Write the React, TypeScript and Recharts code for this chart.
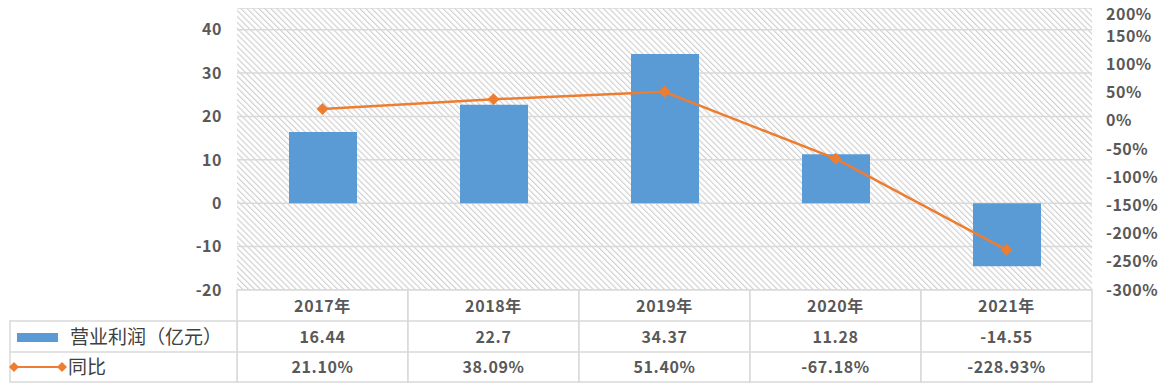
import { ComposedChart, Bar, Line, XAxis, YAxis, CartesianGrid } from 'recharts';

const years = ['2017年', '2018年', '2019年', '2020年', '2021年'];
const profit = [16.44, 22.7, 34.37, 11.28, -14.55];
const yoy = [21.1, 38.09, 51.4, -67.18, -228.93];
const profitLabels = ['16.44', '22.7', '34.37', '11.28', '-14.55'];
const yoyLabels = ['21.10%', '38.09%', '51.40%', '-67.18%', '-228.93%'];
const leftTicks = [-20, -10, 0, 10, 20, 30, 40];
const rightTicks = [-300, -250, -200, -150, -100, -50, 0, 50, 100, 150, 200];

const BAR = '#5b9bd5';
const LINE = '#ed7d31';
const BORDER = '#d9d9d9';
const TEXT = '#595959';

const W = 1173;
const H = 392;
const PLOT_LEFT = 237;
const PLOT_RIGHT = 1092;
const PLOT_TOP = 8;
const PLOT_BOTTOM = 290;
const ROW1 = 290;
const ROW2 = 321;
const ROW3 = 352;
const ROW_END = 382;
const TABLE_LEFT = 10;

const data = years.map((y, i) => ({
  year: y,
  profit: profit[i],
  yoy: yoy[i],
}));

const Diamond = ({ cx, cy, r = 6 }: { cx: number; cy: number; r?: number }) => (
  <polygon
    points={`${cx},${cy - r} ${cx + r},${cy} ${cx},${cy + r} ${cx - r},${cy}`}
    fill={LINE}
  />
);

const cellText = {
  fontSize: 16,
  fontWeight: 700,
  fill: TEXT,
  textAnchor: 'middle' as const,
  letterSpacing: 0.6,
};

const TableTick = (props: any) => {
  const { x, payload } = props;
  const i = payload.index;
  const band = (PLOT_RIGHT - PLOT_LEFT) / years.length;
  const left = x - band / 2;
  return (
    <g>
      <rect x={left} y={ROW1} width={band} height={ROW_END - ROW1} fill="#fff" stroke={BORDER} strokeWidth={1.5} />
      <line x1={left} x2={left + band} y1={ROW2} y2={ROW2} stroke={BORDER} strokeWidth={1.5} />
      <line x1={left} x2={left + band} y1={ROW3} y2={ROW3} stroke={BORDER} strokeWidth={1.5} />
      <text x={x} y={(ROW1 + ROW2) / 2 + 6} {...cellText}>{years[i]}</text>
      <text x={x} y={(ROW2 + ROW3) / 2 + 6} {...cellText}>{profitLabels[i]}</text>
      <text x={x} y={(ROW3 + ROW_END) / 2 + 6} {...cellText}>{yoyLabels[i]}</text>
      {i === 0 && (
        <g>
          <rect x={TABLE_LEFT} y={ROW2} width={PLOT_LEFT - TABLE_LEFT} height={ROW_END - ROW2} fill="#fff" stroke={BORDER} strokeWidth={1.5} />
          <line x1={TABLE_LEFT} x2={PLOT_LEFT} y1={ROW3} y2={ROW3} stroke={BORDER} strokeWidth={1.5} />
          <rect x={17} y={333} width={41} height={9} fill={BAR} />
          <text x={70} y={(ROW2 + ROW3) / 2 + 7} fontSize={19} fill="#404040">营业利润（亿元）</text>
          <line x1={14} x2={62} y1={367} y2={367} stroke={LINE} strokeWidth={2} />
          <Diamond cx={14} cy={367} r={5} />
          <Diamond cx={62} cy={367} r={5} />
          <text x={68} y={(ROW3 + ROW_END) / 2 + 7} fontSize={19} fill="#404040">同比</text>
        </g>
      )}
    </g>
  );
};

const axisText = { fontSize: 16, fontWeight: 700, fill: TEXT, letterSpacing: 0.5 };

const LeftTick = (props: any) => {
  const { x, y, payload } = props;
  return (
    <text x={x} y={y} dy="0.355em" textAnchor="end" {...axisText}>
      {payload.value}
    </text>
  );
};

const RightTick = (props: any) => {
  const { x, y, payload } = props;
  return (
    <text x={x} y={Math.max(y, 14)} dy="0.355em" textAnchor="start" {...axisText}>
      {`${payload.value}%`}
    </text>
  );
};

const App = () => (
  <div style={{ margin: -8, width: W, height: H, fontFamily: '"Noto Sans CJK SC", "Noto Sans", sans-serif', background: '#fff' }}>
    <ComposedChart
      width={W}
      height={H}
      data={data}
      margin={{ top: PLOT_TOP, right: 0, bottom: 2, left: 0 }}
      barCategoryGap={0}
    >
      <defs>
        <pattern id="hatch" patternUnits="userSpaceOnUse" width={4.2} height={4.2} patternTransform="rotate(-45)">
          <line x1={0.6} y1={0} x2={0.6} y2={4.2} stroke="#cdcdcd" strokeWidth={1.1} />
        </pattern>
      </defs>
      <CartesianGrid yAxisId="left" vertical={false} stroke={BORDER} strokeWidth={1.5} fill="url(#hatch)" fillOpacity={1} />
      <XAxis
        dataKey="year"
        axisLine={false}
        tickLine={false}
        height={H - PLOT_BOTTOM - 2}
        tick={<TableTick />}
        interval={0}
      />
      <YAxis
        yAxisId="left"
        width={PLOT_LEFT}
        domain={[-20, 45]}
        ticks={leftTicks}
        axisLine={false}
        tickLine={false}
        tickMargin={9}
        tick={<LeftTick />}
      />
      <YAxis
        yAxisId="right"
        orientation="right"
        width={W - PLOT_RIGHT}
        domain={[-300, 200]}
        ticks={rightTicks}
        axisLine={false}
        tickLine={false}
        tickMargin={8}
        tick={<RightTick />}
      />
      <Bar yAxisId="left" dataKey="profit" fill={BAR} barSize={68} isAnimationActive={false} />
      <Line
        yAxisId="right"
        dataKey="yoy"
        stroke={LINE}
        strokeWidth={2.5}
        isAnimationActive={false}
        dot={(p: any) => <Diamond key={`d-${p.index}`} cx={p.cx} cy={p.cy} r={6} />}
        activeDot={false}
      />
    </ComposedChart>
  </div>
);

export default App;
